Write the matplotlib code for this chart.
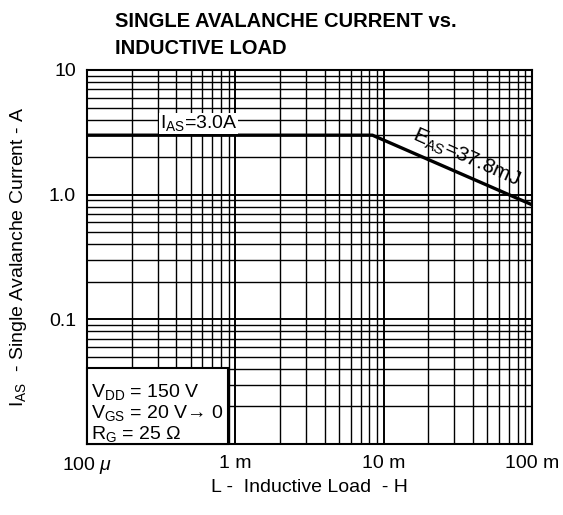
import numpy as np
import matplotlib
matplotlib.use('Agg')
from matplotlib import pyplot as plt
from matplotlib.patches import Rectangle
from matplotlib.ticker import LogLocator, FixedLocator, NullFormatter

plt.rcParams['font.family'] = ['Liberation Sans', 'DejaVu Sans']
plt.rcParams['mathtext.fontset'] = 'custom'
plt.rcParams['mathtext.rm'] = 'Liberation Sans'
plt.rcParams['mathtext.it'] = 'Liberation Sans:italic'

# inductance (H) and avalanche current (A)
inductance = [1e-4, 8.4e-3, 1e-1]
current = [3.0, 3.0, 0.83]

x_ticks = [1e-4, 1e-3, 1e-2, 1e-1]
x_labels = [r'100 $\mu$', '1 m', '10 m', '100 m']
y_ticks = [0.1, 1.0, 10]
y_labels = ['0.1', '1.0', '10']

fig = plt.figure(figsize=(5.63, 5.15), dpi=100)
ax = fig.add_axes([87 / 563, 1 - 444 / 515, 445 / 563, 374 / 515])

ax.set_xscale('log')
ax.set_yscale('log')
ax.set_xlim(1e-4, 1e-1)
ax.set_ylim(0.01, 10)

ax.plot(inductance, current, color='black', lw=2.4, zorder=3)

ax.xaxis.set_major_locator(FixedLocator(x_ticks))
ax.set_xticklabels(x_labels)
ax.yaxis.set_major_locator(FixedLocator(y_ticks))
ax.set_yticklabels(y_labels)
ax.xaxis.set_minor_locator(LogLocator(base=10, subs=np.arange(2, 10)))
ax.yaxis.set_minor_locator(LogLocator(base=10, subs=np.arange(2, 10)))
ax.xaxis.set_minor_formatter(NullFormatter())
ax.yaxis.set_minor_formatter(NullFormatter())
ax.tick_params(which='both', length=0, labelsize=14, pad=8)
ax.grid(which='major', color='black', lw=1.4)
ax.grid(which='minor', color='black', lw=1.0)
for s in ax.spines.values():
    s.set_linewidth(1.5)

ax.set_xlabel('L -  Inductive Load  - H', fontsize=14, labelpad=2)
ax.set_ylabel(r'I$_{\mathrm{AS}}$  - Single Avalanche Current - A', fontsize=14, labelpad=14)

fig.text(115 / 563, 1 - 12 / 515, 'SINGLE AVALANCHE CURRENT vs.\nINDUCTIVE LOAD',
         fontsize=14.5, fontweight='bold', ha='left', va='top', linespacing=1.5)

ax.text(3.1e-4, 3.1, r'I$_{\mathrm{AS}}$=3.0A', fontsize=14, ha='left', va='bottom',
        bbox=dict(facecolor='white', edgecolor='none', pad=0.5), zorder=4)
ax.text(3.6e-2, 1.97, r'E$_{\mathrm{AS}}$=37.8mJ', fontsize=15, ha='center', va='center',
        rotation=-24, rotation_mode='anchor', zorder=4)

# conditions box in the lower left corner
ax.add_patch(Rectangle((0, 0), 0.317, 0.203, transform=ax.transAxes, facecolor='white',
                       edgecolor='black', lw=1.5, zorder=5, clip_on=False))
ax.text(0.008, 0.083, r'V$_{\mathrm{DD}}$ = 150 V' + '\n' + r'V$_{\mathrm{GS}}$ = 20 V→ 0' + '\n' + r'R$_{\mathrm{G}}$ = 25 $\Omega$',
        transform=ax.transAxes, fontsize=14, ha='left', va='center', linespacing=1.07, zorder=6)

fig.savefig('out.png', dpi=100)
